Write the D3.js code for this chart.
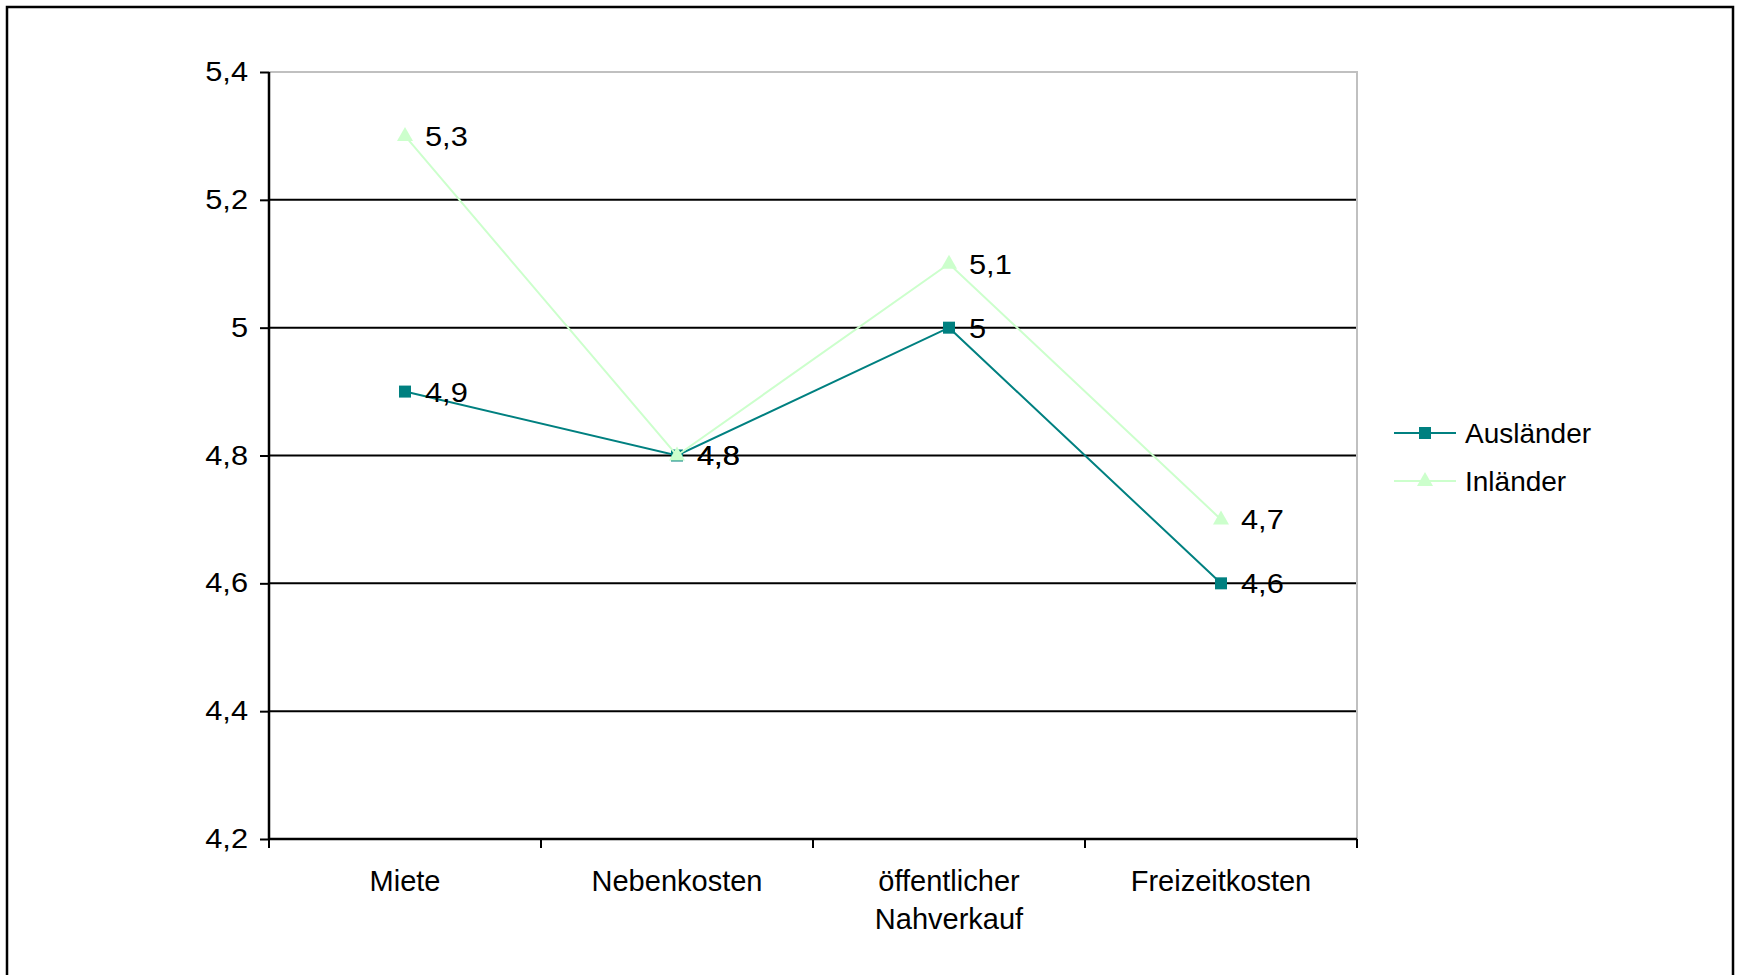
<!DOCTYPE html>
<html>
<head>
<meta charset="utf-8">
<script src="https://cdn.jsdelivr.net/npm/d3@7"></script>
<style>
  html, body { margin: 0; padding: 0; background: #fff; }
  svg { display: block; font-family: "Liberation Sans", Arial, sans-serif; }
</style>
</head>
<body>
<svg id="chart" width="1739" height="975"></svg>
<script>
const categories = ["Miete", "Nebenkosten", "öffentlicher\nNahverkauf", "Freizeitkosten"];
const auslaender = [4.9, 4.8, 5.0, 4.6];
const inlaender = [5.3, 4.8, 5.1, 4.7];
const yTicks = [4.2, 4.4, 4.6, 4.8, 5.0, 5.2, 5.4];
const seriesNames = ["Ausländer", "Inländer"];
const seriesColors = ["#008080", "#CCFFCC"];

(function () {
const svg = d3.select("#chart");
const pLeft = 269, pRight = 1357, pTop = 72, pBottom = 839;
const stretch = (sel, sx) => sel.attr("transform", function () {
  const ax = +d3.select(this).attr("x") || 0;
  return `translate(${ax},0) scale(${sx},1) translate(${-ax},0)`;
});

// outer frame
svg.append("rect").attr("x", 7).attr("y", 7).attr("width", 1726).attr("height", 1000)
  .attr("fill", "none").attr("stroke", "#000").attr("stroke-width", 2.5);

const x = d3.scaleBand().domain(categories).range([pLeft, pRight]);
const y = d3.scaleLinear().domain([4.2, 5.4]).range([pBottom, pTop]);
const fmt = v => (Math.round(v * 10) / 10).toString().replace(".", ",");

// gridlines
svg.append("g").selectAll("line").data(yTicks.filter(t => t > 4.2 && t < 5.4)).join("line")
  .attr("x1", pLeft).attr("x2", pRight).attr("y1", d => y(d)).attr("y2", d => y(d))
  .attr("stroke", "#000").attr("stroke-width", 2);
// top and right plot border (gray)
svg.append("path").attr("d", `M${pLeft},${y(5.4)}H${pRight}V${pBottom}`)
  .attr("fill", "none").attr("stroke", "#c0c0c0").attr("stroke-width", 2);

// y axis
const yAxis = d3.axisLeft(y).tickValues(yTicks).tickFormat(fmt).tickSize(9).tickPadding(12);
const gy = svg.append("g").attr("transform", `translate(${pLeft},0)`).call(yAxis);
gy.select(".domain").attr("stroke", "#000").attr("stroke-width", 2.5).attr("d", `M0,${pTop}V${pBottom}`);
gy.selectAll(".tick line").attr("stroke", "#000").attr("stroke-width", 2);
gy.selectAll(".tick text").attr("font-size", 27).attr("fill", "#000")
  .attr("font-family", "Liberation Sans, Arial, sans-serif").call(stretch, 1.14);

// x axis
const xAxis = d3.axisBottom(x).tickSize(0).tickFormat("");
const gx = svg.append("g").attr("transform", `translate(0,${pBottom})`).call(xAxis);
gx.select(".domain").attr("stroke", "#000").attr("stroke-width", 2.5).attr("d", `M${pLeft},0H${pRight}`);
// category boundary ticks
const boundaries = categories.map(c => x(c)).concat([x(categories[categories.length - 1]) + x.bandwidth()]);
gx.selectAll(".bt").data(boundaries).join("line").attr("class", "bt")
  .attr("x1", d => d).attr("x2", d => d).attr("y1", 0).attr("y2", 9)
  .attr("stroke", "#000").attr("stroke-width", 2);
// category labels
const cx = c => x(c) + x.bandwidth() / 2;
svg.append("g").selectAll("text").data(categories).join("text")
  .attr("x", d => cx(d)).attr("y", 891).attr("text-anchor", "middle")
  .attr("font-size", 29).attr("fill", "#000")
  .each(function(d) {
    const lines = d.split("\n");
    d3.select(this).selectAll("tspan").data(lines).join("tspan")
      .attr("x", cx(d)).attr("dy", (l, i) => i === 0 ? 0 : 38).text(l => l);
  });

// series
const seriesData = [auslaender, inlaender];
const line = d3.line().x((v, i) => cx(categories[i])).y(v => y(v));
[0, 1].forEach(si => {
  const vals = seriesData[si];
  const g = svg.append("g");
  g.append("path").attr("d", line(vals)).attr("fill", "none")
    .attr("stroke", seriesColors[si]).attr("stroke-width", 2);
  vals.forEach((v, i) => {
    const px = cx(categories[i]), py = y(v);
    if (si === 0) {
      g.append("rect").attr("x", px - 6).attr("y", py - 6).attr("width", 12).attr("height", 12)
        .attr("fill", seriesColors[si]);
    } else {
      g.append("path").attr("d", `M${px},${py - 9}L${px + 8},${py + 5}L${px - 8},${py + 5}Z`)
        .attr("fill", seriesColors[si]);
    }
  });
});
// data labels
[0, 1].forEach(si => {
  const vals = seriesData[si];
  svg.append("g").selectAll("text").data(vals).join("text")
    .attr("x", (v, i) => cx(categories[i]) + 20).attr("y", v => y(v) + 10)
    .attr("font-size", 28).attr("fill", "#000").text(v => fmt(v)).call(stretch, 1.1);
});

// legend
const legY = [433, 481];
seriesNames.forEach((name, si) => {
  const g = svg.append("g");
  g.append("line").attr("x1", 1394).attr("x2", 1456).attr("y1", legY[si]).attr("y2", legY[si])
    .attr("stroke", seriesColors[si]).attr("stroke-width", 2);
  if (si === 0) {
    g.append("rect").attr("x", 1419).attr("y", legY[si] - 6).attr("width", 12).attr("height", 12)
      .attr("fill", seriesColors[si]);
  } else {
    g.append("path").attr("d", `M1425,${legY[si] - 9}L1433,${legY[si] + 5}L1417,${legY[si] + 5}Z`)
      .attr("fill", seriesColors[si]);
  }
  g.append("text").attr("x", 1465).attr("y", legY[si] + 10).attr("font-size", 28)
    .attr("fill", "#000").text(name);
});
})();
</script>
</body>
</html>
